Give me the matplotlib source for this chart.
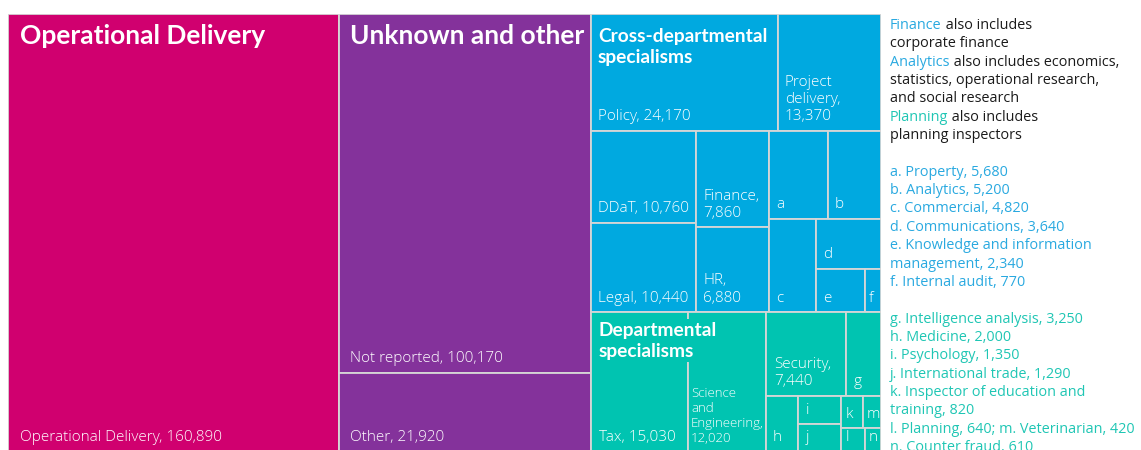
import matplotlib
matplotlib.use("Agg")
import matplotlib.pyplot as plt
from matplotlib.patches import Rectangle

plt.rcParams['font.family'] = ['Open Sans', 'DejaVu Sans']

# ---- data ----
group_titles = ["Operational Delivery", "Unknown and other",
                "Cross-departmental\nspecialisms", "Departmental\nspecialisms"]
group_colors = ["#d0006f", "#84329b", "#00a9e0", "#00c4b1"]

od_labels = ["Operational Delivery, 160,890"]
od_values = [160890]

unknown_labels = ["Not reported, 100,170", "Other, 21,920"]
unknown_values = [100170, 21920]

cross_labels = ["Policy, 24,170", "Project\ndelivery,\n13,370", "DDaT, 10,760",
                "Legal, 10,440", "Finance,\n7,860", "HR,\n6,880",
                "a", "b", "c", "d", "e", "f"]
cross_values = [24170, 13370, 10760, 10440, 7860, 6880,
                5680, 5200, 4820, 3640, 2340, 770]

dept_labels = ["Tax, 15,030", "Science\nand\nEngineering,\n12,020", "Security,\n7,440",
               "g", "h", "i", "j", "k", "m", "l", "n"]
dept_values = [15030, 12020, 7440, 3250, 2000, 1350, 1290, 820, 640, 610, 420]

# notes: (coloured part, plain part, colour)
note_lines = [("Finance", " also includes", "#29a9e0"),
              ("", "corporate finance", None),
              ("Analytics", " also includes economics,", "#29a9e0"),
              ("", "statistics, operational research,", None),
              ("", "and social research", None),
              ("Planning", " also includes", "#1fc6b4"),
              ("", "planning inspectors", None)]
cross_key = ["a. Property, 5,680", "b. Analytics, 5,200", "c. Commercial, 4,820",
             "d. Communications, 3,640", "e. Knowledge and information",
             "management, 2,340", "f. Internal audit, 770"]
dept_key = ["g. Intelligence analysis, 3,250", "h. Medicine, 2,000",
            "i. Psychology, 1,350", "j. International trade, 1,290",
            "k. Inspector of education and", "training, 820",
            "l. Planning, 640; m. Veterinarian, 420", "n. Counter fraud, 610"]


def squarify(values, x, y, w, h, ratio=0.87):
    # squarified layout, rows along the shorter side, cells aiming at w/h = ratio
    order = sorted(range(len(values)), key=lambda i: -values[i])
    rects = [None] * len(values)
    total = float(sum(values))

    def worst(idx, w, h, total):
        s = sum(values[k] for k in idx)
        if w < h:
            t = h * s / total
            cells = [(w * values[k] / s, t) for k in idx]
        else:
            t = w * s / total
            cells = [(t, h * values[k] / s) for k in idx]
        return max(max(cw / ch / ratio, ratio * ch / cw) for cw, ch in cells)

    i = 0
    while i < len(order):
        j = i + 1
        while j < len(order) and worst(order[i:j + 1], w, h, total) <= worst(order[i:j], w, h, total):
            j += 1
        row = order[i:j]
        s = sum(values[k] for k in row)
        if w < h:
            t = h * s / total
            cx = x
            for k in row:
                cw = w * values[k] / s
                rects[k] = (cx, y, cw, t)
                cx += cw
            y += t
            h -= t
        else:
            t = w * s / total
            cy = y
            for k in row:
                ch = h * values[k] / s
                rects[k] = (x, cy, t, ch)
                cy += ch
            x += t
            w -= t
        total -= s
        i = j
    return rects


W, H = 873.0, 437.5
fig = plt.figure(figsize=(11.41, 4.5), dpi=100)
ax = fig.add_axes([8 / 1141, (450 - 14 - H) / 450, W / 1141, H / 450])
ax.set_xlim(0, W)
ax.set_ylim(H, 0)
ax.axis('off')

leaf_labels = [od_labels, unknown_labels, cross_labels, dept_labels]
leaf_values = [od_values, unknown_values, cross_values, dept_values]
group_pads = [12, 11, 7, 8]
title_sizes = [19, 19, 13.8, 13.8]
title_tops = [10.5, 10.5, 14, 9.5]

group_rects = squarify([sum(v) for v in leaf_values], 0, 0, W, H)
renderer = fig.canvas.get_renderer()

for g, (gx, gy, gw, gh) in enumerate(group_rects):
    col = group_colors[g]
    rects = squarify(leaf_values[g], gx, gy, gw, gh)
    for lab, (x, y, w, h) in zip(leaf_labels[g], rects):
        ax.add_patch(Rectangle((x, y), w, h, facecolor=col, edgecolor='#d6d6d6', lw=1.3))
        pad = min(group_pads[g], 0.22 * w)
        t = ax.text(x + pad, y + h - 6.5, lab, color='white', fontsize=11,
                    fontweight='light', va='bottom', ha='left', linespacing=1.2)
        bb = t.get_window_extent(renderer)
        avail = w - 4
        if bb.width > w - pad - 1:
            # too wide for the cell: pull it to the left edge, shrink if needed
            t.set_x(x + 3)
            if bb.width > avail:
                t.set_fontsize(11 * avail / bb.width)
    ax.text(gx + group_pads[g], gy + title_tops[g], group_titles[g], color='white',
            family='Lato', fontsize=title_sizes[g], fontweight='bold',
            va='top', ha='left', linespacing=1.3, zorder=5,
            bbox=dict(facecolor=col, edgecolor='none', pad=2))

# notes and keys on the right
lx = 890 / 1141
step = 18.35
y0 = 29.0
fs = 10.4

def yfig(k):
    return 1 - (y0 + step * k) / 450

k = 0
for coloured, plain, c in note_lines:
    if coloured:
        t1 = fig.text(lx, yfig(k), coloured, color=c, fontsize=fs, va='baseline')
        ax.annotate(plain, xy=(1, 0), xycoords=t1, va='bottom', ha='left',
                    color='#1a1a1a', fontsize=fs)
    else:
        fig.text(lx, yfig(k), plain, color='#1a1a1a', fontsize=fs, va='baseline')
    k += 1
k += 1
for line in cross_key:
    fig.text(lx, yfig(k), line, color='#29a9e0', fontsize=fs, va='baseline')
    k += 1
k += 1
for line in dept_key:
    fig.text(lx, yfig(k), line, color='#1fc6b4', fontsize=fs, va='baseline')
    k += 1

fig.savefig("out.png", dpi=100)
